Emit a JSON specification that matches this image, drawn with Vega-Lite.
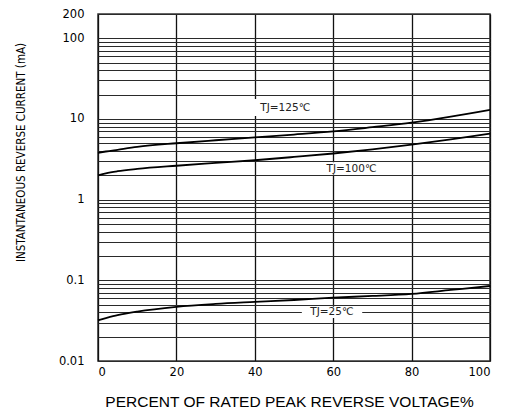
{
  "$schema": "https://vega.github.io/schema/vega-lite/v6.json",
  "width": 392,
  "height": 347,
  "autosize": "none",
  "padding": {"left": 98, "top": 14, "right": 17, "bottom": 50},
  "background": "white",
  "config": {
    "view": {"stroke": "#333333", "strokeWidth": 1.5},
    "axis": {"domain": false, "ticks": false, "labelColor": "black", "titleColor": "black", "titleFontWeight": "normal"}
  },
  "datasets": {
    "curves": [
      {"series": "125", "pct": 0, "current": 3.8},
      {"series": "125", "pct": 2, "current": 3.95},
      {"series": "125", "pct": 5, "current": 4.15},
      {"series": "125", "pct": 10, "current": 4.5},
      {"series": "125", "pct": 20, "current": 5.0},
      {"series": "125", "pct": 30, "current": 5.45},
      {"series": "125", "pct": 40, "current": 5.9},
      {"series": "125", "pct": 50, "current": 6.4},
      {"series": "125", "pct": 60, "current": 7.0},
      {"series": "125", "pct": 70, "current": 7.9},
      {"series": "125", "pct": 80, "current": 9.0},
      {"series": "125", "pct": 90, "current": 10.7},
      {"series": "125", "pct": 100, "current": 13.0},
      {"series": "100", "pct": 0, "current": 2.0},
      {"series": "100", "pct": 2, "current": 2.12},
      {"series": "100", "pct": 5, "current": 2.25},
      {"series": "100", "pct": 10, "current": 2.4},
      {"series": "100", "pct": 20, "current": 2.63},
      {"series": "100", "pct": 30, "current": 2.85},
      {"series": "100", "pct": 40, "current": 3.08},
      {"series": "100", "pct": 50, "current": 3.38},
      {"series": "100", "pct": 60, "current": 3.73},
      {"series": "100", "pct": 70, "current": 4.2},
      {"series": "100", "pct": 80, "current": 4.8},
      {"series": "100", "pct": 90, "current": 5.6},
      {"series": "100", "pct": 100, "current": 6.6},
      {"series": "25", "pct": 0, "current": 0.032},
      {"series": "25", "pct": 2, "current": 0.034},
      {"series": "25", "pct": 5, "current": 0.037},
      {"series": "25", "pct": 10, "current": 0.041},
      {"series": "25", "pct": 20, "current": 0.047},
      {"series": "25", "pct": 30, "current": 0.051},
      {"series": "25", "pct": 40, "current": 0.054},
      {"series": "25", "pct": 50, "current": 0.057},
      {"series": "25", "pct": 60, "current": 0.061},
      {"series": "25", "pct": 70, "current": 0.064},
      {"series": "25", "pct": 80, "current": 0.068},
      {"series": "25", "pct": 90, "current": 0.076},
      {"series": "25", "pct": 100, "current": 0.085}
    ],
    "labels": [
      {"label": "TJ=125℃", "pct": 47.8, "current": 13.7, "pct0": 38.8, "pct1": 56.6, "cur0": 10.9, "cur1": 17.7},
      {"label": "TJ=100℃", "pct": 64.7, "current": 2.42, "pct0": 56.6, "pct1": 72.8, "cur0": 2.05, "cur1": 2.9},
      {"label": "TJ=25℃", "pct": 59.7, "current": 0.04, "pct0": 52.0, "pct1": 67.4, "cur0": 0.034, "cur1": 0.047}
    ]
  },
  "layer": [
    {
      "data": {"name": "curves"},
      "mark": {"type": "line", "interpolate": "monotone", "color": "black", "strokeWidth": 1.8},
      "encoding": {
        "x": {
          "field": "pct", "type": "quantitative",
          "scale": {"domain": [0, 100], "nice": false},
          "axis": {
            "values": [0, 20, 40, 60, 80, 100],
            "grid": true, "gridColor": "#111111", "gridWidth": 1.3,
            "labelFont": "DejaVu Sans", "labelFontSize": 11.5, "labelPadding": 5,
            "title": "PERCENT OF RATED PEAK REVERSE VOLTAGE%",
            "titleFont": "Liberation Sans", "titleFontSize": 15.5,
            "titleX": 191, "titleY": 40, "titleBaseline": "middle"
          }
        },
        "y": {
          "field": "current", "type": "quantitative",
          "scale": {"type": "log", "domain": [0.01, 200], "nice": false},
          "axis": {
            "values": [0.01, 0.02, 0.03, 0.04, 0.05, 0.06, 0.07, 0.08, 0.09, 0.1, 0.2, 0.3, 0.4, 0.5, 0.6, 0.7, 0.8, 0.9, 1, 2, 3, 4, 5, 6, 7, 8, 9, 10, 20, 30, 40, 50, 60, 70, 80, 90, 100, 200],
            "labelExpr": "indexof([0.01, 0.1, 1, 10, 100, 200], datum.value) >= 0 ? format(datum.value, '~g') : ''",
            "labelOverlap": false,
            "grid": true, "gridColor": "#2a2a2a", "gridWidth": 1,
            "labelFont": "DejaVu Sans", "labelFontSize": 11.5, "labelPadding": 14,
            "title": "INSTANTANEOUS REVERSE CURRENT (mA)",
            "titleFont": "Liberation Sans Narrow, DejaVu Sans Condensed, Liberation Sans", "titleFontSize": 11.5,
            "titleX": -77, "titleY": 138, "titleBaseline": "middle"
          }
        },
        "detail": {"field": "series"}
      }
    },
    {
      "data": {"name": "labels"},
      "mark": {"type": "rect", "fill": "white"},
      "encoding": {
        "x": {"field": "pct0", "type": "quantitative", "title": "PERCENT OF RATED PEAK REVERSE VOLTAGE%"},
        "x2": {"field": "pct1"},
        "y": {"field": "cur0", "type": "quantitative", "title": "INSTANTANEOUS REVERSE CURRENT (mA)"},
        "y2": {"field": "cur1"}
      }
    },
    {
      "data": {"name": "labels"},
      "mark": {"type": "text", "font": "DejaVu Sans", "fontSize": 10.5, "color": "#222222", "align": "center", "baseline": "middle"},
      "encoding": {
        "x": {"field": "pct", "type": "quantitative", "title": "PERCENT OF RATED PEAK REVERSE VOLTAGE%"},
        "y": {"field": "current", "type": "quantitative", "title": "INSTANTANEOUS REVERSE CURRENT (mA)"},
        "text": {"field": "label"}
      }
    }
  ]
}
